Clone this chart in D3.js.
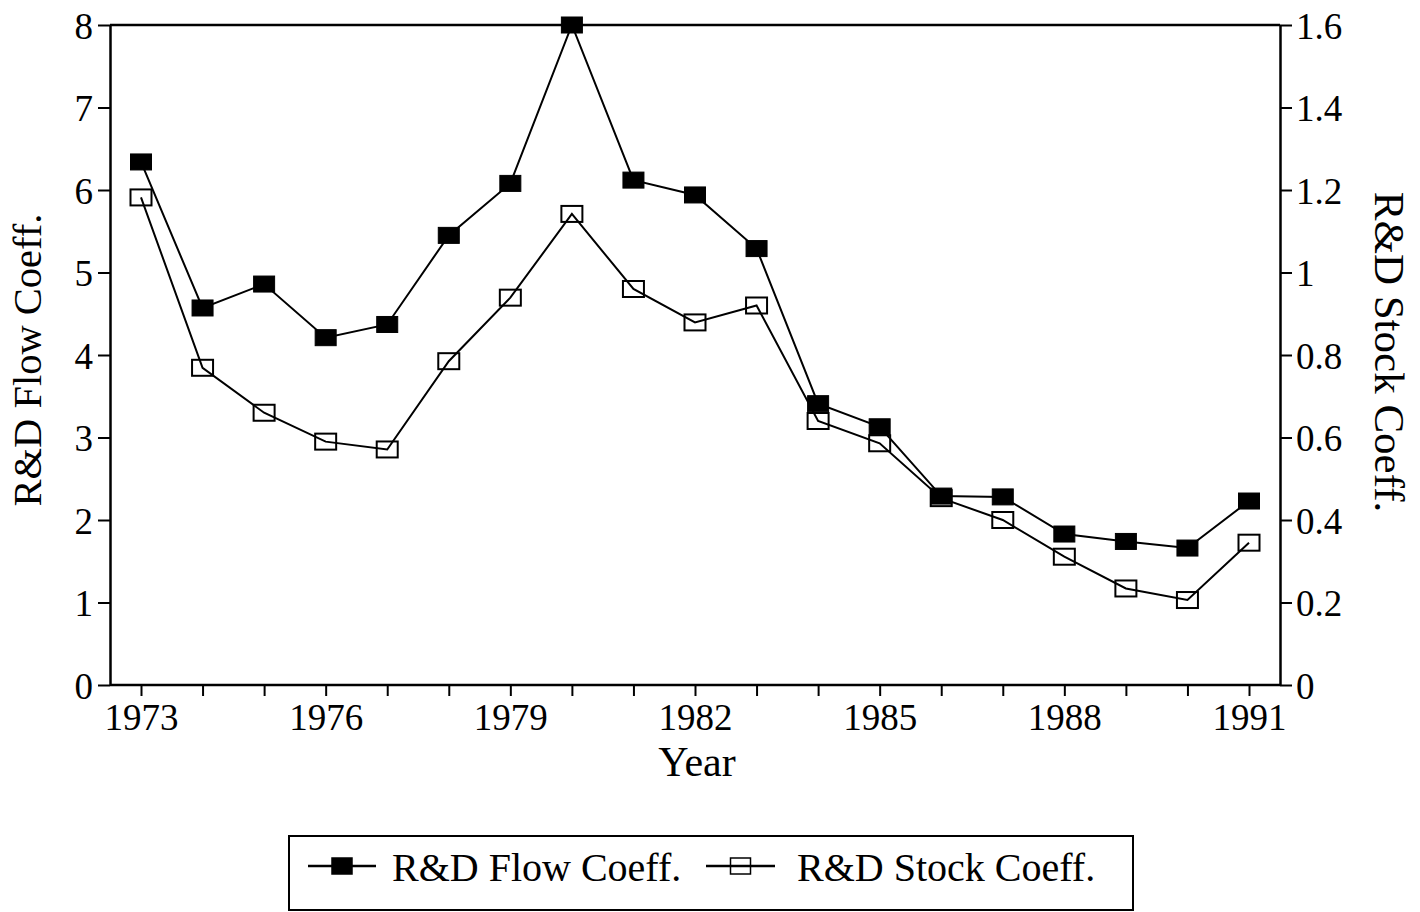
<!DOCTYPE html>
<html><head><meta charset="utf-8">
<script src="https://cdn.jsdelivr.net/npm/d3@7"></script>
<style>body{margin:0;background:#fff}svg{display:block}text{font-family:"Liberation Serif","Times New Roman",serif;fill:#000}</style>
</head><body><svg id="c" width="1420" height="912"></svg>
<script>
const years = [1973,1974,1975,1976,1977,1978,1979,1980,1981,1982,1983,1984,1985,1986,1987,1988,1989,1990,1991];
const flowCoeff = [6.34,4.57,4.86,4.21,4.37,5.45,6.08,8.0,6.12,5.94,5.29,3.41,3.13,2.29,2.28,1.83,1.74,1.66,2.23];
const stockCoeff = [1.182,0.769,0.660,0.590,0.571,0.785,0.939,1.142,0.960,0.879,0.920,0.640,0.586,0.453,0.400,0.311,0.234,0.206,0.345];
const leftTicks = [0,1,2,3,4,5,6,7,8];
const rightTicks = [0,0.2,0.4,0.6,0.8,1,1.2,1.4,1.6];
const xLabelYears = [1973,1976,1979,1982,1985,1988,1991];
const seriesNames = ["R&D Flow Coeff.","R&D Stock Coeff."];

const svg = d3.select("#c");
const L=110,R=1280,T=25,B=685;
const x = d3.scaleLinear().domain([1973,1991]).range([141,1249]);
const yL = d3.scaleLinear().domain([0,8]).range([B,T]);
const yR = d3.scaleLinear().domain([0,1.6]).range([B,T]);
const fs = 37;

// frame top line
svg.append("line").attr("x1",L).attr("x2",R).attr("y1",T).attr("y2",T).attr("stroke","#000").attr("stroke-width",2.5);

function styleAxis(g){
  g.select(".domain").attr("stroke","#000").attr("stroke-width",2.5);
  g.selectAll(".tick line").attr("stroke","#000").attr("stroke-width",2);
  g.selectAll(".tick text").attr("font-size",fs).attr("font-family","Liberation Serif");
}
// bottom axis
const xa = svg.append("g").attr("transform",`translate(0,${B})`)
  .call(d3.axisBottom(x).tickValues(years).tickSize(11).tickSizeOuter(0).tickPadding(8)
     .tickFormat(d=>xLabelYears.includes(d)?String(d):""));
xa.select(".domain").attr("d",`M${L},0H${R}`);
styleAxis(xa);
// left axis
const ya = svg.append("g").attr("transform",`translate(${L},0)`)
  .call(d3.axisLeft(yL).tickValues(leftTicks).tickSize(12).tickSizeOuter(0).tickPadding(5).tickFormat(d3.format("d")));
styleAxis(ya);
ya.selectAll(".tick text").attr("dy","0.36em");
// right axis
const yra = svg.append("g").attr("transform",`translate(${R},0)`)
  .call(d3.axisRight(yR).tickValues(rightTicks).tickSize(12).tickSizeOuter(0).tickPadding(4).tickFormat(d=>d===0?"0":(Number.isInteger(d)?String(d):String(+d.toFixed(1)))));
styleAxis(yra);
yra.selectAll(".tick text").attr("dy","0.36em");

// axis titles
svg.append("text").attr("x",697).attr("y",776).attr("text-anchor","middle").attr("font-size",42).text("Year");
svg.append("text").attr("transform","translate(41,360) rotate(-90)").attr("text-anchor","middle").attr("font-size",40.5).text("R&D Flow Coeff.");
svg.append("text").attr("transform","translate(1375,352) rotate(90)").attr("text-anchor","middle").attr("font-size",43).text("R&D Stock Coeff.");

// lines
const lineStock = d3.line().x((d,i)=>x(years[i])).y(d=>yR(d));
const lineFlow = d3.line().x((d,i)=>x(years[i])).y(d=>yL(d));
svg.append("path").datum(stockCoeff).attr("d",lineStock).attr("fill","none").attr("stroke","#000").attr("stroke-width",2);
svg.append("path").datum(flowCoeff).attr("d",lineFlow).attr("fill","none").attr("stroke","#000").attr("stroke-width",2);

const mw=21,mh=16;
svg.append("g").selectAll("rect").data(stockCoeff).join("rect")
  .attr("x",(d,i)=>x(years[i])-mw/2).attr("y",d=>yR(d)-mh/2).attr("width",mw).attr("height",mh)
  .attr("fill","none").attr("stroke","#000").attr("stroke-width",2);
svg.append("g").selectAll("rect").data(flowCoeff).join("rect")
  .attr("x",(d,i)=>x(years[i])-mw/2).attr("y",d=>yL(d)-mh/2).attr("width",mw).attr("height",mh)
  .attr("fill","#000").attr("stroke","#000").attr("stroke-width",1);

// legend
svg.append("rect").attr("x",289).attr("y",836).attr("width",844).attr("height",74).attr("fill","none").attr("stroke","#000").attr("stroke-width",2);
const leg = [{x0:308,x1:376,tx:392,fill:"#000"},{x0:706,x1:775,tx:797,fill:"none"}];
leg.forEach((l,i)=>{
  const cy=866, cx=(l.x0+l.x1)/2;
  svg.append("line").attr("x1",l.x0).attr("x2",l.x1).attr("y1",cy).attr("y2",cy).attr("stroke","#000").attr("stroke-width",2.5);
  svg.append("rect").attr("x",cx-10).attr("y",cy-8).attr("width",20).attr("height",16).attr("fill",l.fill).attr("stroke","#000").attr("stroke-width",1.5);
  svg.append("text").attr("x",l.tx).attr("y",881).attr("font-size",40).text(seriesNames[i]);
});
</script></body></html>
